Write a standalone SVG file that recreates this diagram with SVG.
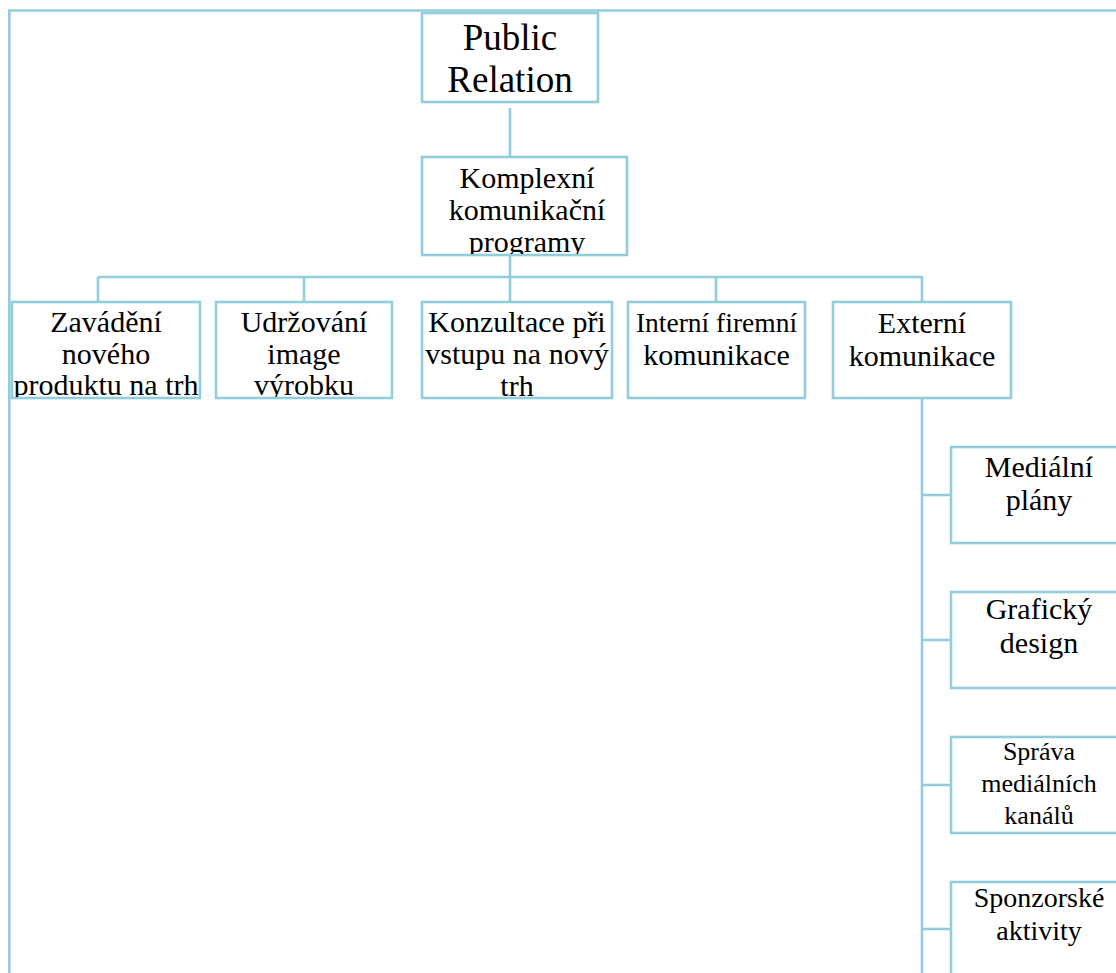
<svg xmlns="http://www.w3.org/2000/svg" width="1116" height="973" viewBox="0 0 1116 973">
  <style>
    .box { fill: #ffffff; stroke: #92CDDC; stroke-width: 2.6; }
    .wire { fill: none; stroke: #92CDDC; stroke-width: 2.6; }
    .lbl { fill: #000000; text-anchor: middle; font-size: 30px; }
    .big { font-size: 37px; }
    .small { font-size: 26px; }
  </style>
  <defs>
    <clipPath id="c-kom"><rect x="422" y="157" width="205" height="97"/></clipPath>
    <clipPath id="c-zav"><rect x="12" y="302" width="188" height="95"/></clipPath>
    <clipPath id="c-udr"><rect x="216" y="302" width="176" height="95"/></clipPath>
    <clipPath id="c-kon"><rect x="422" y="302" width="190" height="95"/></clipPath>
  </defs>
  <rect width="1116" height="973" fill="#ffffff"/>

  <g id="connectors">
    <polyline class="wire" points="1118,10.5 9.3,10.5 9.3,975"/>
    <line class="wire" x1="510" y1="108" x2="510" y2="157"/>
    <line class="wire" x1="510" y1="255" x2="510" y2="302"/>
    <line class="wire" x1="98" y1="277" x2="922" y2="277"/>
    <line class="wire" x1="98" y1="277" x2="98" y2="302"/>
    <line class="wire" x1="304" y1="277" x2="304" y2="302"/>
    <line class="wire" x1="716" y1="277" x2="716" y2="302"/>
    <line class="wire" x1="922" y1="276" x2="922" y2="302"/>
    <line class="wire" x1="922" y1="398" x2="922" y2="975"/>
    <line class="wire" x1="922" y1="495" x2="951" y2="495"/>
    <line class="wire" x1="922" y1="640" x2="951" y2="640"/>
    <line class="wire" x1="922" y1="785" x2="951" y2="785"/>
    <line class="wire" x1="922" y1="929" x2="951" y2="929"/>
  </g>

  <g font-family="'Liberation Serif', 'DejaVu Serif', 'Times New Roman', serif">
  <g id="public-relation">
    <rect class="box" x="422" y="13" width="176" height="89"/>
    <text class="lbl big" x="510" y="50">Public</text>
    <text class="lbl big" x="510" y="92">Relation</text>
  </g>

  <g id="komplexni">
    <rect class="box" x="422" y="157" width="205" height="98"/>
    <g clip-path="url(#c-kom)">
      <text class="lbl" x="527" y="188">Komplexní</text>
      <text class="lbl" x="527" y="220">komunikační</text>
      <text class="lbl" x="527" y="252">programy</text>
    </g>
  </g>

  <g id="zavadeni">
    <rect class="box" x="12" y="302" width="188" height="96"/>
    <g clip-path="url(#c-zav)">
      <text class="lbl" x="106" y="332">Zavádění</text>
      <text class="lbl" x="106" y="364">nového</text>
      <text class="lbl" x="106" y="395">produktu na trh</text>
    </g>
  </g>

  <g id="udrzovani">
    <rect class="box" x="216" y="302" width="176" height="96"/>
    <g clip-path="url(#c-udr)">
      <text class="lbl" x="304" y="332">Udržování</text>
      <text class="lbl" x="304" y="364">image</text>
      <text class="lbl" x="304" y="395">výrobku</text>
    </g>
  </g>

  <g id="konzultace">
    <rect class="box" x="422" y="302" width="190" height="96"/>
    <g clip-path="url(#c-kon)">
      <text class="lbl" x="517" y="332">Konzultace při</text>
      <text class="lbl" x="517" y="364">vstupu na nový</text>
      <text class="lbl" x="517" y="396">trh</text>
    </g>
  </g>

  <g id="interni">
    <rect class="box" x="628" y="302" width="177" height="96"/>
    <text class="lbl" x="716.5" y="332" style="font-size:27.5px">Interní firemní</text>
    <text class="lbl" x="716.5" y="365">komunikace</text>
  </g>

  <g id="externi">
    <rect class="box" x="833" y="302" width="178" height="96"/>
    <text class="lbl" x="922" y="333">Externí</text>
    <text class="lbl" x="922" y="366">komunikace</text>
  </g>

  <g id="medialni-plany">
    <rect class="box" x="951" y="447" width="176" height="96"/>
    <text class="lbl" x="1039" y="477">Mediální</text>
    <text class="lbl" x="1039" y="510">plány</text>
  </g>

  <g id="graficky-design">
    <rect class="box" x="951" y="592" width="176" height="96"/>
    <text class="lbl" x="1039" y="619">Grafický</text>
    <text class="lbl" x="1039" y="653">design</text>
  </g>

  <g id="sprava-kanalu">
    <rect class="box" x="951" y="737" width="176" height="96"/>
    <text class="lbl small" x="1039" y="760">Správa</text>
    <text class="lbl small" x="1039" y="792">mediálních</text>
    <text class="lbl small" x="1039" y="824">kanálů</text>
  </g>

  <g id="sponzorske-aktivity">
    <rect class="box" x="951" y="882" width="176" height="96"/>
    <text class="lbl" x="1039" y="907" style="font-size:28px">Sponzorské</text>
    <text class="lbl" x="1039" y="940" style="font-size:28px">aktivity</text>
  </g>
  </g>
</svg>
